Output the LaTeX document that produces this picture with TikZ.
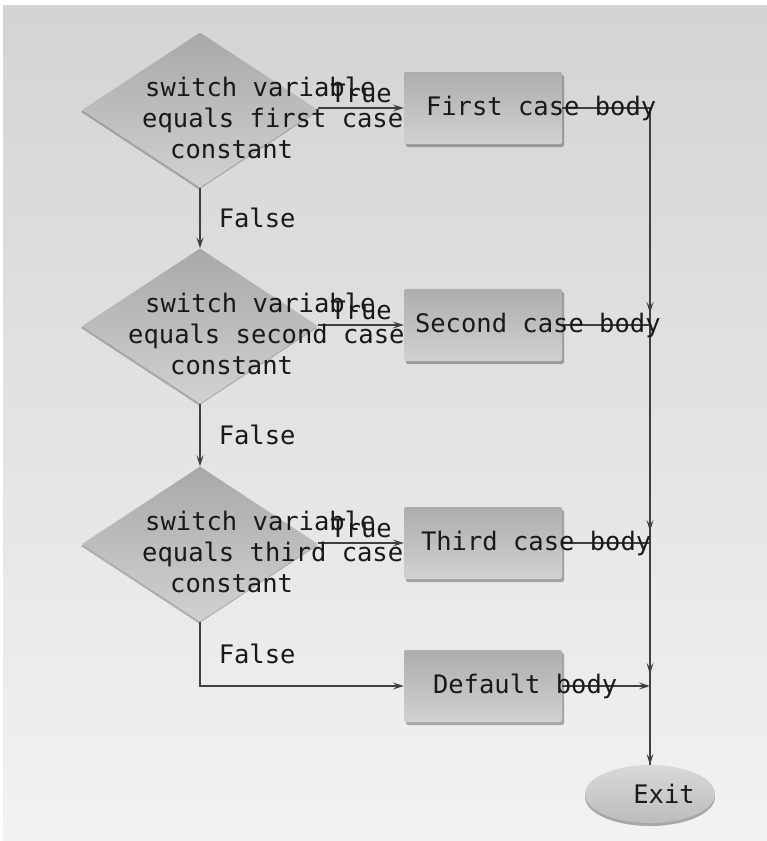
\documentclass[tikz,border=0pt]{standalone}
\usepackage{fontspec}
\setmonofont{DejaVu Sans Mono}
\usetikzlibrary{shapes.geometric, arrows.meta, shadows}
\tikzstyle{decision} = [diamond, minimum width=236pt, minimum height=155pt, inner sep=0pt, top color=gray!68, bottom color=gray!36, drop shadow={shadow xshift=-1pt, shadow yshift=-2pt, fill=black, opacity=0.25}]
\tikzstyle{process} = [rectangle, rounded corners=2pt, minimum width=158pt, minimum height=72pt, inner sep=0pt, top color=gray!64, bottom color=gray!36, drop shadow={shadow xshift=2pt, shadow yshift=-3pt, fill=black, opacity=0.3}]
\tikzstyle{terminal} = [ellipse, minimum width=130pt, minimum height=58pt, inner sep=0pt, top color=gray!30, bottom color=gray!52, drop shadow={shadow xshift=0pt, shadow yshift=-3pt, fill=black, opacity=0.3}, font=\ttfamily\fontsize{25.5}{31}\selectfont, text=black!90]
\tikzstyle{txt} = [font=\ttfamily\fontsize{25.5}{31}\selectfont, text=black!90, inner sep=0pt, align=left]
\tikzstyle{line} = [draw=black!75, line width=1.5pt]
\tikzstyle{flow} = [line, -{Stealth[length=11pt, width=7pt, inset=4.5pt]}]

\begin{document}
\begin{tikzpicture}[x=1pt, y=-1pt]
    \useasboundingbox (0,0) rectangle (767,841);
    \shade[top color=gray!34, bottom color=gray!10] (3,5) rectangle (767,841);

    % tests on the switch variable
    \node[decision] (q1) at (200,110) {};
    \node[decision] (q2) at (200,326) {};
    \node[decision] (q3) at (200,544) {};

    % case bodies and exit
    \node[process] (c1) at (483,108) {};
    \node[process] (c2) at (483,325) {};
    \node[process] (c3) at (483,543) {};
    \node[process] (dflt) at (483,686) {};
    \node[terminal] (exit) at (650,794) {\hspace*{28pt}Exit};

    \coordinate (j1) at (exit.north |- c1.east);
    \coordinate (j2) at (exit.north |- c2.east);
    \coordinate (j3) at (exit.north |- c3.east);
    \coordinate (j4) at (exit.north |- dflt.east);

    % true branches
    \draw[flow] (q1.east |- c1.west) -- node[txt, above=4pt] (t1) {True} (c1.west);
    \draw[flow] (q2.east |- c2.west) -- node[txt, above=4pt] (t2) {True} (c2.west);
    \draw[flow] (q3.east |- c3.west) -- node[txt, above=4pt] (t3) {True} (c3.west);

    % false branches
    \draw[flow] (q1.south) -- node[txt, right=18pt] (f1) {False} (q2.north);
    \draw[flow] (q2.south) -- node[txt, right=18pt] (f2) {False} (q3.north);
    \draw[flow] (q3.south) |- node[txt, pos=0.25, right=18pt] (f3) {False} (dflt.west);

    % merge to exit
    \draw[line] (c1.east) -- (j1) -- (exit.north);
    \draw[line] (c2.east) -- (j2);
    \draw[line] (c3.east) -- (j3);
    \draw[flow] (dflt.east) -- (j4);
    \draw[flow] (j1) -- ([yshift=12pt]j2);
    \draw[flow] (j2) -- ([yshift=12pt]j3);
    \draw[flow] (j3) -- ([yshift=12pt]j4);
    \draw[flow] (j4) -- (exit.north);

    % texts
    \node[txt, anchor=west] (q1 text) at ([shift={(-58,8)}]q1.center) {\hspace*{3pt}switch variable\\equals first case\\\hspace*{28pt}constant};
    \node[txt, anchor=west] (q2 text) at ([shift={(-72,8)}]q2.center) {\hspace*{17pt}switch variable\\equals second case\\\hspace*{42pt}constant};
    \node[txt, anchor=west] (q3 text) at ([shift={(-58,8)}]q3.center) {\hspace*{3pt}switch variable\\equals third case\\\hspace*{28pt}constant};
    \node[txt, anchor=west] (c1 text) at ([xshift=22pt]c1.west) {First case body};
    \node[txt, anchor=west] (c2 text) at ([xshift=11pt]c2.west) {Second case body};
    \node[txt, anchor=west] (c3 text) at ([xshift=17pt]c3.west) {Third case body};
    \node[txt, anchor=west] (dflt text) at ([xshift=29pt]dflt.west) {Default body};
\end{tikzpicture}
\end{document}
